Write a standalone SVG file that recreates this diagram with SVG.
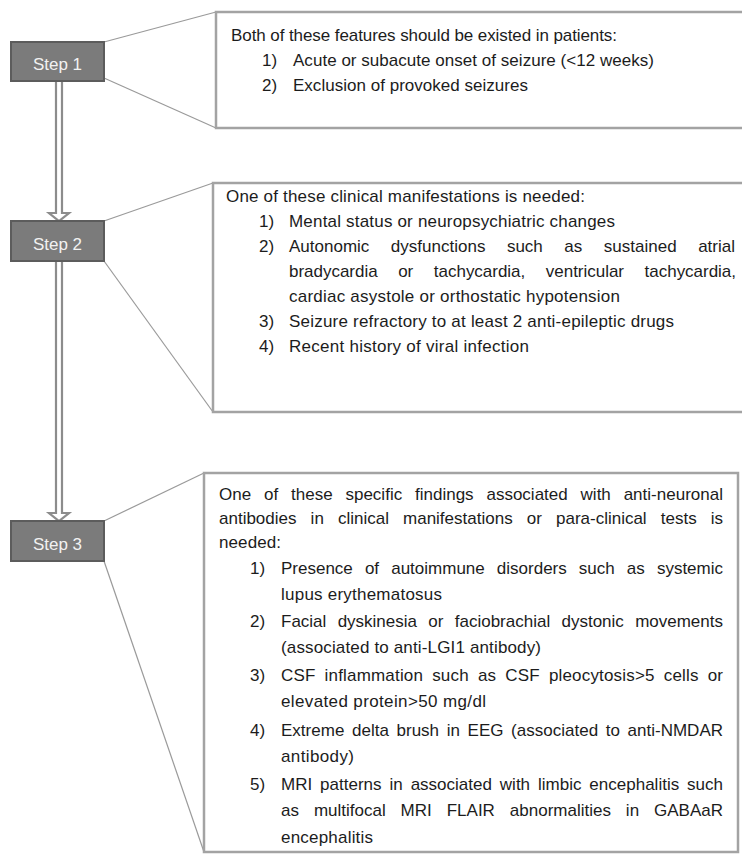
<svg xmlns="http://www.w3.org/2000/svg" width="742" height="854" viewBox="0 0 742 854">
<style>
.bg{fill:#ffffff}
.step rect{fill:#7b7b7b;stroke:#5c5c5c;stroke-width:2}
.step text{font-family:"Liberation Sans",Arial,sans-serif;font-size:17px;fill:#f2f2f2;text-anchor:middle}
.box rect{fill:#ffffff;stroke:#a3a3a3;stroke-width:2.5}
.box text{font-family:"Liberation Sans",Arial,sans-serif;font-size:17px;fill:#1c1c1c}
.call{stroke:#9a9a9a;stroke-width:1.2;fill:none}
.arrow{fill:#ffffff;stroke:#8c8c8c;stroke-width:2.2;stroke-linejoin:miter}
</style>
<rect class="bg" x="0" y="0" width="742" height="854"/>
<g id="connectors">
  <line class="call" x1="104" y1="42" x2="216" y2="12"/>
  <line class="call" x1="104" y1="78" x2="216" y2="128"/>
  <line class="call" x1="104" y1="221" x2="213" y2="183"/>
  <line class="call" x1="104" y1="261" x2="213" y2="412"/>
  <line class="call" x1="104" y1="521" x2="204" y2="473"/>
  <line class="call" x1="104" y1="561" x2="204" y2="852"/>
  <path class="arrow" d="M56,80 L56,213 L49,213 L59,221 L69,213 L62,213 L62,80"/>
  <path class="arrow" d="M56,260 L56,513 L49,513 L59,521 L69,513 L62,513 L62,260"/>
</g>
<g id="step1" class="step">
  <rect x="11" y="42" width="93" height="39"/>
  <text x="57.5" y="70">Step 1</text>
</g>
<g id="step2" class="step">
  <rect x="11" y="221" width="93" height="40"/>
  <text x="57.5" y="250">Step 2</text>
</g>
<g id="step3" class="step">
  <rect x="11" y="521" width="93" height="40"/>
  <text x="57.5" y="550">Step 3</text>
</g>
<g id="detail1" class="box">
  <rect x="216" y="12" width="540" height="116"/>
  <text x="231" y="41" textLength="386" lengthAdjust="spacing">Both of these features should be existed in patients:</text>
  <text x="262" y="66">1)</text>
  <text x="293" y="66" textLength="361" lengthAdjust="spacing">Acute or subacute onset of seizure (&lt;12 weeks)</text>
  <text x="262" y="91">2)</text>
  <text x="293" y="91" textLength="235" lengthAdjust="spacing">Exclusion of provoked seizures</text>
</g>
<g id="detail2" class="box">
  <rect x="213" y="183" width="540" height="229"/>
  <text x="226" y="202" textLength="359" lengthAdjust="spacing">One of these clinical manifestations is needed:</text>
  <text x="259" y="227">1)</text>
  <text x="289" y="227" textLength="326" lengthAdjust="spacing">Mental status or neuropsychiatric changes</text>
  <text x="259" y="252">2)</text>
  <text x="289" y="252" word-spacing="16.8" textLength="446" lengthAdjust="spacing">Autonomic dysfunctions such as sustained atrial</text>
  <text x="289" y="277" word-spacing="15.9" textLength="447" lengthAdjust="spacing">bradycardia or tachycardia, ventricular tachycardia,</text>
  <text x="289" y="302" textLength="331" lengthAdjust="spacing">cardiac asystole or orthostatic hypotension</text>
  <text x="259" y="327">3)</text>
  <text x="289" y="327" textLength="385" lengthAdjust="spacing">Seizure refractory to at least 2 anti-epileptic drugs</text>
  <text x="259" y="352">4)</text>
  <text x="289" y="352" textLength="240" lengthAdjust="spacing">Recent history of viral infection</text>
</g>
<g id="detail3" class="box">
  <rect x="204" y="473" width="534" height="379"/>
  <text x="219" y="500" word-spacing="8.1" textLength="504" lengthAdjust="spacing">One of these specific findings associated with anti-neuronal</text>
  <text x="219" y="524" word-spacing="9.4" textLength="504" lengthAdjust="spacing">antibodies in clinical manifestations or para-clinical tests is</text>
  <text x="219" y="548" textLength="62" lengthAdjust="spacing">needed:</text>
  <text x="250" y="574">1)</text>
  <text x="281" y="574" word-spacing="7.4" textLength="442" lengthAdjust="spacing">Presence of autoimmune disorders such as systemic</text>
  <text x="281" y="600" textLength="161" lengthAdjust="spacing">lupus erythematosus</text>
  <text x="250" y="627">2)</text>
  <text x="281" y="627" word-spacing="6.6" textLength="442" lengthAdjust="spacing">Facial dyskinesia or faciobrachial dystonic movements</text>
  <text x="281" y="653" textLength="260" lengthAdjust="spacing">(associated to anti-LGI1 antibody)</text>
  <text x="250" y="681">3)</text>
  <text x="281" y="681" word-spacing="4.2" textLength="442" lengthAdjust="spacing">CSF inflammation such as CSF pleocytosis&gt;5 cells or</text>
  <text x="281" y="707" textLength="205" lengthAdjust="spacing">elevated protein&gt;50 mg/dl</text>
  <text x="250" y="736">4)</text>
  <text x="281" y="736" word-spacing="2.9" textLength="442" lengthAdjust="spacing">Extreme delta brush in EEG (associated to anti-NMDAR</text>
  <text x="281" y="762" textLength="73" lengthAdjust="spacing">antibody)</text>
  <text x="250" y="790">5)</text>
  <text x="281" y="790" word-spacing="3.2" textLength="442" lengthAdjust="spacing">MRI patterns in associated with limbic encephalitis such</text>
  <text x="281" y="816" word-spacing="10.2" textLength="442" lengthAdjust="spacing">as multifocal MRI FLAIR abnormalities in GABAaR</text>
  <text x="281" y="843" textLength="92" lengthAdjust="spacing">encephalitis</text>
</g>
</svg>
